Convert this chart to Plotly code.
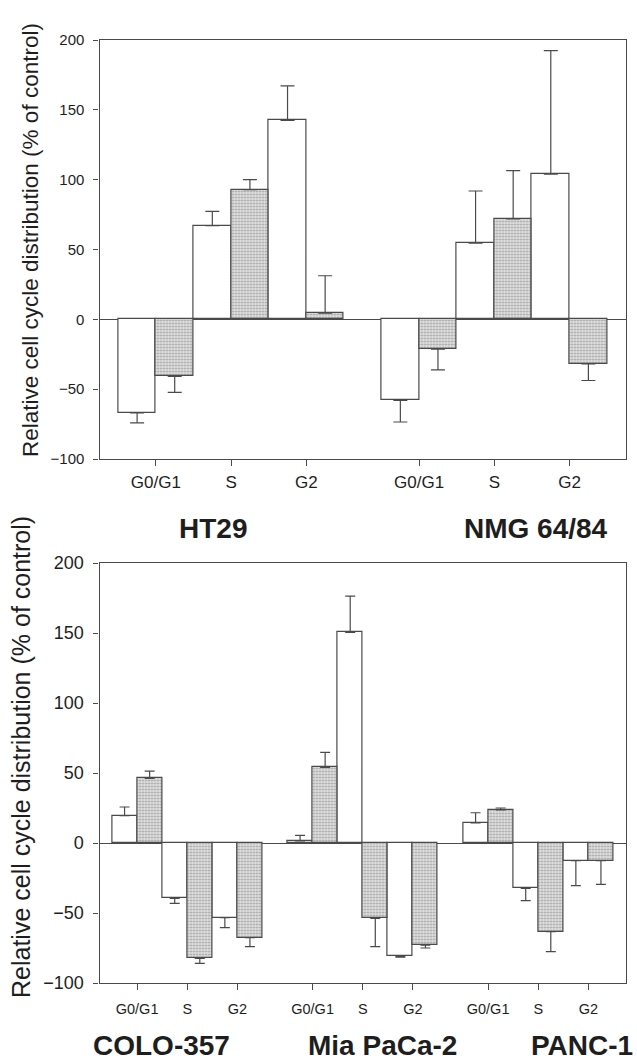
import plotly.graph_objects as go

# Cell-cycle phases shown for each cell line
phases = ["G0/G1", "S", "G2"]

# Upper panel: colorectal cell lines
top_lines = ["HT29", "NMG 64/84"]
top_open = [[-67, 67, 142.4], [-58, 54.6, 104]]
top_open_err = [[7.2, 10.3, 24.8], [15.5, 37.3, 88.4]]
top_shaded = [[-40.9, 92.9, 4.4], [-21.4, 71.9, -31.9]]
top_shaded_err = [[11.4, 7.1, 26.8], [14.8, 34.6, 11.9]]

# Lower panel: pancreatic cell lines
bot_lines = ["COLO-357", "Mia PaCa-2", "PANC-1"]
bot_open = [[19.5, -39.5, -53.3], [1.5, 150.5, -80.7], [14.3, -32.4, -12.6]]
bot_open_err = [[6.2, 3.6, 7.2], [4.0, 25.9, 0.8], [7.3, 8.8, 17.9]]
bot_shaded = [[46.2, -82.4, -67.6], [54, -53.8, -72.9], [23.6, -63.4, -12.6]]
bot_shaded_err = [[5.2, 3.6, 6.4], [10.8, 20.2, 2.1], [1.4, 14.2, 16.9]]

y_ticks = [-100, -50, 0, 50, 100, 150, 200]

EDGE = "#4a4a4a"
TEXT = "#1e1e1e"
FONT = "Liberation Sans, Arial, sans-serif"


def flat_positions(n_groups, offset):
    xs = []
    for g in range(n_groups):
        for k in range(len(phases)):
            xs.append(g * 7 + 2 * k + 1 + offset)
    return xs


def one_sided(values, errs):
    up, down = [], []
    for v, e in zip(values, errs):
        if v >= 0:
            up.append(e)
            down.append(0)
        else:
            up.append(0)
            down.append(e)
    return up, down


def add_panel(fig, open_vals, open_err, shaded_vals, shaded_err, xa, ya, cap):
    n = len(open_vals)
    ov = [v for grp in open_vals for v in grp]
    oe = [v for grp in open_err for v in grp]
    sv = [v for grp in shaded_vals for v in grp]
    se = [v for grp in shaded_err for v in grp]
    for vals, errs, off, shaded in ((ov, oe, 0, False), (sv, se, 1, True)):
        up, down = one_sided(vals, errs)
        marker = dict(color="white", line=dict(color=EDGE, width=1.2))
        if shaded:
            marker = dict(
                color="#e0e0e0",
                line=dict(color=EDGE, width=1.2),
                pattern=dict(shape=".", fgcolor="#9c9c9c", bgcolor="#e0e0e0",
                             size=3, solidity=0.3, fillmode="replace"),
            )
        fig.add_trace(go.Bar(
            x=flat_positions(n, off), y=vals, width=1, marker=marker,
            xaxis=xa, yaxis=ya, showlegend=False,
            error_y=dict(type="data", symmetric=False, array=up, arrayminus=down,
                         color=EDGE, thickness=1.2, width=cap),
        ))


fig = go.Figure()
add_panel(fig, top_open, top_open_err, top_shaded, top_shaded_err, "x", "y", 7)
add_panel(fig, bot_open, bot_open_err, bot_shaded, bot_shaded_err, "x2", "y2", 5)

W, H = 637, 1062


def px_x(p):
    return p / W


def px_y(p):
    return 1 - p / H


def x_axis(n_groups, domain, anchor, size, standoff):
    tickvals = [g * 7 + 2 * k + 1.5 for g in range(n_groups) for k in range(len(phases))]
    return dict(
        domain=domain, anchor=anchor, range=[0, n_groups * 7],
        tickvals=tickvals, ticktext=phases * n_groups,
        ticks="outside", ticklen=6, tickwidth=1.2, tickcolor=EDGE,
        showline=True, linecolor=EDGE, linewidth=1.2, mirror=True,
        showgrid=False, zeroline=False, fixedrange=True,
        tickfont=dict(family=FONT, size=size, color=TEXT),
        ticklabelstandoff=standoff,
    )


def y_axis(domain, anchor, size):
    return dict(
        domain=domain, anchor=anchor, range=[-100, 200],
        tickvals=y_ticks, ticks="outside", ticklen=5, tickwidth=1.2, tickcolor=EDGE,
        showline=True, linecolor=EDGE, linewidth=1.2, mirror=True,
        showgrid=False, zeroline=True, zerolinecolor=EDGE, zerolinewidth=1.2,
        fixedrange=True, tickfont=dict(family=FONT, size=size, color=TEXT),
        ticklabelstandoff=6,
    )


x_dom = [px_x(99.5), px_x(626)]
fig.update_layout(
    width=W, height=H,
    margin=dict(l=0, r=0, t=0, b=0, autoexpand=False),
    paper_bgcolor="white", plot_bgcolor="white",
    barmode="overlay", bargap=0,
    xaxis=x_axis(len(top_lines), x_dom, "y", 17, 1),
    yaxis=y_axis([px_y(459), px_y(40)], "x", 15),
    xaxis2=x_axis(len(bot_lines), x_dom, "y2", 14.5, 6),
    yaxis2=y_axis([px_y(983), px_y(563)], "x2", 18),
)

ytitle = "Relative cell cycle distribution (% of control)"
annotations = [
    dict(text=ytitle, x=px_x(30), y=px_y(240), textangle=-90, size=22.5, anchor="middle"),
    dict(text=ytitle, x=px_x(21), y=px_y(757), textangle=-90, size=25, anchor="middle"),
]
top_label_x = [213, 536]
bot_label_x = [161, 382, 582]
for name, cx in zip(top_lines, top_label_x):
    annotations.append(dict(text="<b>%s</b>" % name, x=px_x(cx), y=px_y(528),
                            textangle=0, size=28, anchor="middle"))
for name, cx in zip(bot_lines, bot_label_x):
    annotations.append(dict(text="<b>%s</b>" % name, x=px_x(cx), y=0,
                            textangle=0, size=28, anchor="bottom"))

fig.update_layout(annotations=[
    dict(text=a["text"], x=a["x"], y=a["y"], xref="paper", yref="paper",
         xanchor="center", yanchor=a["anchor"], showarrow=False, textangle=a["textangle"],
         borderpad=0, font=dict(family=FONT, size=a["size"], color=TEXT))
    for a in annotations
])

fig.write_html("out.html")
